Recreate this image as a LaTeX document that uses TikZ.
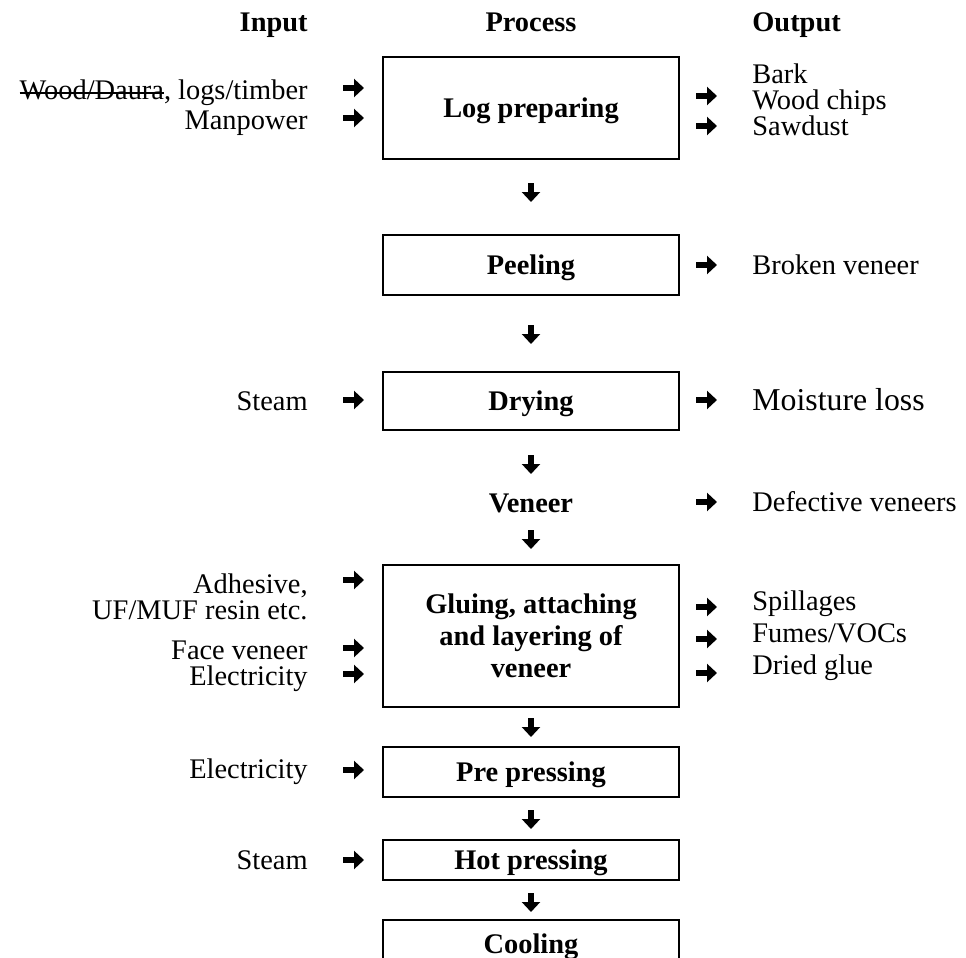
\documentclass[tikz,border=0pt]{standalone}
\usepackage{fontspec}
\setmainfont{Liberation Serif}
\usepackage{tikz}
\usetikzlibrary{arrows.meta,positioning}
\newsavebox\strikebox
\newcommand\strikeout[1]{\sbox\strikebox{#1}%
	\rlap{\rule[0.22em]{\wd\strikebox}{0.7pt}}\usebox\strikebox}
\tikzset{
	procbox/.style={draw, line width=1pt, minimum width=148pt, align=center,
		inner sep=0pt, text depth=0pt, font=\fontsize{14.2}{16}\selectfont\bfseries},
	headlabel/.style={inner sep=0pt, font=\fontsize{14.2}{16}\selectfont\bfseries},
	inlabel/.style={anchor=east, align=right, inner sep=0pt},
	outlabel/.style={anchor=west, align=left, inner sep=0pt},
	flow/.style={-{Triangle[length=5pt,width=9pt]}, line width=2.6pt}
}
\begin{document}
\begin{tikzpicture}[x=0.5pt, y=-0.5pt,
	every node/.style={font=\fontsize{14.2}{13}\selectfont}]
	\clip (0,0) rectangle (966,958);
	
	%% -- Column headers
	\node[headlabel, anchor=base east] (hin) at (308,32) {Input};
	\node[headlabel, anchor=base] (hproc) at (531,32) {Process};
	\node[headlabel, anchor=base west] (hout) at (752,32) {Output};
	
	%% -- Process column
	\node[procbox, minimum height=51pt] (logp) at (531,108) {Log preparing};
	\node[procbox, minimum height=30pt] (peel) at (531,265) {Peeling};
	\node[procbox, minimum height=29pt] (dry) at (531,401) {Drying};
	\node[headlabel, anchor=base] (ven) at (531,512) {Veneer};
	\node[procbox, minimum height=71pt] (glue) at (531,636)
	{Gluing, attaching\\and layering of\\veneer};
	\node[procbox, minimum height=25pt] (prep) at (531,772) {Pre pressing};
	\node[procbox, minimum height=20pt] (hotp) at (531,860) {Hot pressing};
	\node[procbox, minimum height=26pt, text depth=0.22em] (cool) at (531,946) {Cooling};
	
	%% -- Down arrows between steps
	\foreach \y [count=\i] in {183,325,455,530,718,810,893}
	\coordinate (dn\i) at (531,\y);
	\foreach \i in {1,...,7}
	\draw[flow] (dn\i) -- ++(0,19);
	
	%% -- Inputs (left column)
	\node[inlabel, font=\fontsize{14.2}{15}\selectfont] (inlog) at (308,108)
	{\strikeout{Wood/Daura}, logs/timber\\Manpower};
	\node[inlabel] (indry) at (308,401) {Steam};
	\node[inlabel, font=\fontsize{14.2}{13}\selectfont] (inglue1) at (308,597)
	{Adhesive,\\UF/MUF resin etc.};
	\node[inlabel, font=\fontsize{14.2}{13}\selectfont] (inglue2) at (308,666)
	{Face veneer\\Electricity};
	\node[inlabel] (inprep) at (308,772) {Electricity};
	\node[inlabel] (inhotp) at (308,860) {Steam};
	
	\foreach \y [count=\i] in {88,118,400,580,648,674,770,860}
	\coordinate (in\i) at (343,\y);
	\foreach \i in {1,...,8}
	\draw[flow] (in\i) -- ++(21,0);
	
	%% -- Outputs (right column)
	\node[outlabel] (outlog) at (752,100) {Bark\\Wood chips\\Sawdust};
	\node[outlabel] (outpeel) at (752,265) {Broken veneer};
	\node[outlabel, font=\fontsize{15.9}{17}\selectfont] (outdry) at (752,400) {Moisture loss};
	\node[outlabel] (outven) at (752,502) {Defective veneers};
	\node[outlabel, font=\fontsize{14.2}{16}\selectfont] (outglue) at (752,636)
	{Spillages\\Fumes/VOCs\\Dried glue};
	
	\foreach \y [count=\i] in {96,126,265,400,502,607,639,673}
	\coordinate (out\i) at (696,\y);
	\foreach \i in {1,...,8}
	\draw[flow] (out\i) -- ++(21,0);
	
\end{tikzpicture}
\end{document}
